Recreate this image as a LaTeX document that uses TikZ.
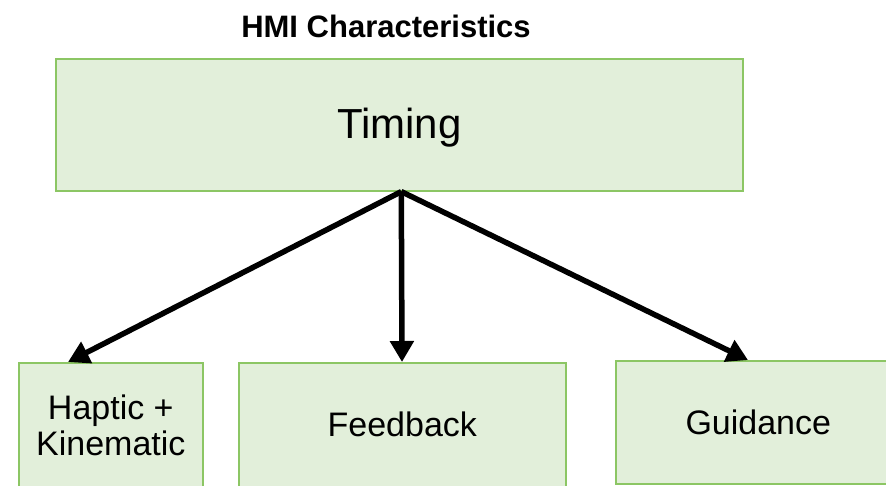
\documentclass[tikz,border=0pt]{standalone}
\usepackage{fontspec}
\setmainfont{Liberation Sans}
\usetikzlibrary{arrows.meta,calc}
\definecolor{boxfill}{RGB}{226,239,218}
\definecolor{boxline}{RGB}{140,198,100}
\tikzset{
  box/.style={draw=boxline, line width=1.6pt, fill=boxfill, inner sep=0pt, anchor=north west, align=center, text=black},
  link/.style={line width=5.5pt, -{Triangle[length=21pt,width=23pt]}},
}
\begin{document}
\begin{tikzpicture}[x=1pt,y=-1pt]
\useasboundingbox (0,0) rectangle (886,485);
\clip (0,0) rectangle (886,485);
\node[font=\bfseries\fontsize{31}{34}\selectfont] (title) at (386,26) {HMI Characteristics};
\node[box, minimum width=687pt, minimum height=132pt, font=\fontsize{42}{46}\selectfont, text depth=4pt] (timing) at (55,58) {Timing};
\node[box, minimum width=184pt, minimum height=126pt, font=\fontsize{34}{36}\selectfont] (hap) at (18,362) {Haptic +\\Kinematic};
\node[box, minimum width=327pt, minimum height=124pt, font=\fontsize{34}{36}\selectfont] (feed) at (238,362) {Feedback};
\node[box, minimum width=285pt, minimum height=123pt, font=\fontsize{34}{36}\selectfont] (guid) at (615,360) {Guidance};
\coordinate (src) at ([xshift=2pt]timing.south);
\draw[link] (src) -- ([xshift=50pt]hap.north west);
\draw[link] (src) -- ([xshift=164pt]feed.north west);
\draw[link] (src) -- ([xshift=133pt]guid.north west);
\end{tikzpicture}
\end{document}
